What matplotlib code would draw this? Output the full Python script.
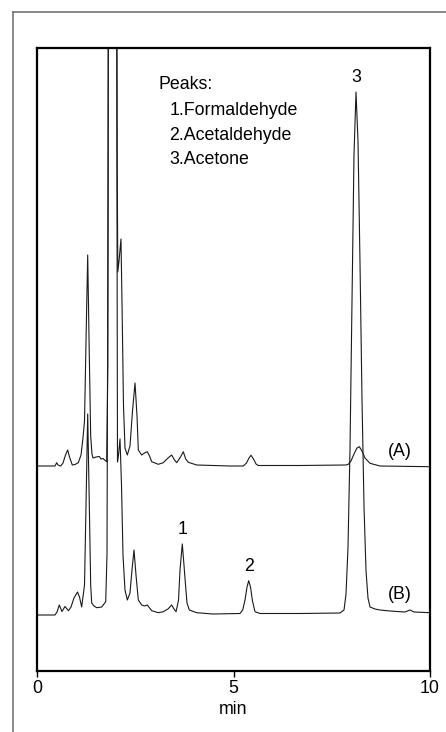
"""Chromatograms (A) and (B): formaldehyde, acetaldehyde and acetone."""

import matplotlib

matplotlib.use("Agg")
import matplotlib.pyplot as plt
from matplotlib.lines import Line2D

# trace (A): retention time (min) and response above its own baseline
TIME_A = [0.00, 0.458, 0.501, 0.534, 0.603, 0.662, 0.725, 0.781, 0.827, 0.898,
          0.967, 1.051, 1.120, 1.170, 1.209, 1.247, 1.290, 1.331, 1.366, 1.399,
          1.425, 1.501, 1.585, 1.628, 1.679, 1.774, 1.802, 1.832, 2.010, 2.041,
          2.056, 2.087, 2.137, 2.168, 2.201, 2.239, 2.298, 2.366, 2.430, 2.494,
          2.545, 2.578, 2.664, 2.735, 2.807, 2.863, 2.919, 3.087, 3.214, 3.333,
          3.427, 3.499, 3.555, 3.651, 3.723, 3.784, 3.850, 4.064, 4.911, 5.249,
          5.331, 5.394, 5.445, 5.509, 5.573, 5.631, 6.692, 7.863, 7.921, 7.990,
          8.066, 8.142, 8.201, 8.270, 8.346, 8.473, 8.728, 10.0]
RESP_A = [0, 0, 3.3, 1, 0, 3, 11, 16, 9, 1,
          1.5, 3.3, 11, 28, 45, 125, 211, 110, 30, 12,
          8, 9, 9.5, 7, 7.5, 4.3, 100, 1000, 1000, 300,
          194, 205, 227, 150, 60, 18, 11, 20, 55, 83,
          50, 16, 11, 13, 14.3, 10, 4.3, 1.7, 3.3, 8,
          11, 6, 3.3, 9, 14.3, 7, 3.7, 1, 0, 0,
          3, 8, 10.7, 7, 2, 0.5, 0.5, 1, 1.7, 5,
          12, 18, 19.3, 15, 8, 2.7, 0, -0.7]

# trace (B)
TIME_B = [0.00, 0.458, 0.509, 0.567, 0.636, 0.712, 0.802, 0.865, 0.941, 1.031,
          1.081, 1.137, 1.209, 1.247, 1.290, 1.331, 1.366, 1.392, 1.450, 1.519,
          1.646, 1.748, 1.781, 1.807, 1.832, 2.010, 2.036, 2.048, 2.074, 2.112,
          2.150, 2.188, 2.239, 2.298, 2.366, 2.417, 2.468, 2.519, 2.578, 2.664,
          2.735, 2.807, 2.919, 3.087, 3.214, 3.333, 3.427, 3.486, 3.539, 3.601,
          3.639, 3.697, 3.740, 3.779, 3.817, 3.875, 4.064, 4.478, 5.165, 5.234,
          5.293, 5.344, 5.387, 5.433, 5.483, 5.547, 5.674, 6.692, 7.710, 7.812,
          7.863, 7.913, 7.964, 8.015, 8.066, 8.117, 8.168, 8.219, 8.270, 8.321,
          8.372, 8.422, 8.473, 8.601, 8.728, 8.982, 9.237, 9.364, 9.491, 9.593,
          10.0]
RESP_B = [0, 0, 3, 10, 3.5, 8.5, 4.3, 8, 17, 23,
          18, 8, 30, 110, 201, 110, 30, 12, 9, 7.3,
          8, 13.3, 60, 400, 1000, 1000, 400, 153, 160, 176,
          130, 60, 25, 15, 22, 45, 65, 40, 15, 10,
          9, 10, 4.3, 2.3, 3.3, 6, 10, 6, 3.3, 15,
          45, 71, 50, 30, 12, 5, 2.3, 1, 1.5, 5,
          15, 28, 34.3, 28, 14, 3.3, 1.5, 1.5, 2, 5,
          21, 67, 165, 313, 460, 523, 474, 352, 215, 108,
          44, 17, 8, 6, 5, 4, 3.3, 3, 5, 3,
          2.3]

PEAK_NAMES = ["1.Formaldehyde", "2.Acetaldehyde", "3.Acetone"]
PEAK_NUMBERS = ["1", "2", "3"]
PEAK_TIMES = [3.697, 5.387, 8.117]
X_TICKS = [0, 5, 10]

OFFSET_A = 149  # vertical offset of trace (A) above (B)
FS = 12.8

plt.rcParams["font.family"] = ["Liberation Sans", "DejaVu Sans"]
plt.rcParams["font.size"] = FS

fig = plt.figure(figsize=(4.46, 7.32), dpi=100)
W, H = 446, 732
ax = fig.add_axes([37 / W, 1 - 670.5 / H, 393 / W, 622.5 / H])

ax.plot(TIME_A, [r + OFFSET_A for r in RESP_A], color="#1a1a1a", lw=0.8)
ax.plot(TIME_B, RESP_B, color="#1a1a1a", lw=0.8)

ax.set_xlim(0, 10)
ax.set_ylim(-55.5, 567)
ax.set_xticks(X_TICKS)
ax.set_yticks([])
ax.tick_params(axis="x", direction="out", length=4, width=1, pad=3, labelsize=FS)
for sp in ax.spines.values():
    sp.set_linewidth(1.6)
    sp.set_color("black")
ax.set_xlabel("min", fontsize=FS, labelpad=3)

# peak numbers above trace (B)
label_heights = [80.7, 44, 533.3]
for num, t, h in zip(PEAK_NUMBERS, PEAK_TIMES, label_heights):
    ax.text(t, h, num, ha="center", va="baseline", fontsize=FS)

ax.text(9.22, 159, "(A)", ha="center", va="baseline", fontsize=FS)
ax.text(9.22, 15.7, "(B)", ha="center", va="baseline", fontsize=FS)

# peak list
ax.text(3.087, 525.7, "Peaks:", ha="left", va="baseline", fontsize=FS)
for name, h in zip(PEAK_NAMES, [500, 475, 450.7]):
    ax.text(3.37, h, name, ha="left", va="baseline", fontsize=FS)

# outer frame (left and top edges)
fig.add_artist(Line2D([13 / W, 13 / W], [0, 1 - 12 / H], color="#6a6a6a", lw=1.1))
fig.add_artist(Line2D([13 / W, 1], [1 - 12 / H, 1 - 12 / H], color="#6a6a6a", lw=1.1))

fig.savefig("out.png", dpi=100)
